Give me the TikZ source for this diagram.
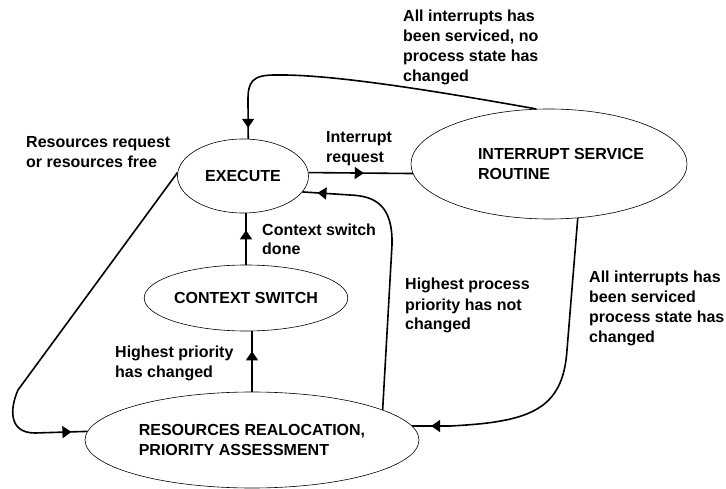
\documentclass[tikz,border=0pt]{standalone}
\usepackage{fontspec}
\setmainfont{Liberation Sans}
\usetikzlibrary{shapes.geometric,arrows.meta,decorations.markings}
\tikzset{
  state/.style={draw,ellipse,line width=0.6pt,inner sep=0pt,align=left,font=\bfseries\fontsize{16}{20}\selectfont},
  conn/.style={line width=1.6pt},
  tipat/.style={postaction={decorate},decoration={markings,mark=at position #1 with {\arrow{Triangle[length=9pt,width=12pt]}}}},
  lbl/.style={anchor=base west,align=left,inner sep=0pt,font=\bfseries\fontsize{16}{20}\selectfont}
}
\begin{document}
\begin{tikzpicture}[x=1pt,y=-1pt]
  \useasboundingbox (0,0) rectangle (726,489);
  \node[state,minimum width=131pt,minimum height=74pt] (exec) at (243,176) {EXECUTE};
  \node[state,minimum width=276pt,minimum height=110pt] (isr) at (549,164) {\hspace*{24pt}INTERRUPT SERVICE\\\hspace*{24pt}ROUTINE};
  \node[state,minimum width=196pt,minimum height=66pt] (ctx) at (246,298) {CONTEXT SWITCH};
  \node[state,minimum width=334pt,minimum height=96pt] (res) at (252,440) {RESOURCES REALOCATION,\\PRIORITY ASSESSMENT};
  \node[lbl] (reqlbl) at (26,168) {Resources request\\or resources free};
  \node[lbl] (intlbl) at (326,163) {Interrupt\\request};
  \node[lbl] (donelbl) at (403,82) {All interrupts has\\been serviced, no\\process state has\\changed};
  \node[lbl] (swlbl) at (262,255) {Context switch\\done};
  \node[lbl] (chglbl) at (115,377) {Highest priority\\has changed};
  \node[lbl] (notlbl) at (405,330) {Highest process\\priority has not\\changed};
  \node[lbl] (statelbl) at (589,342) {All interrupts has\\been serviced\\process state has\\changed};
  \draw[conn,tipat=-11pt] (isr.103) .. controls (430,90) and (330,74) .. (275,75) .. controls (252,75) and (248,82) .. (248,100) -- (exec.82);
  \draw[conn,tipat=0.53] (exec.3) -- (isr.184);
  \draw[conn,tipat=-15pt] (res.13) -- (392,245) .. controls (393,205) and (375,196) .. (350,195) -- (exec.-15);
  \draw[conn,tipat=-17pt] (ctx.north) -- (ctx.north |- exec.south);
  \draw[conn,tipat=-20pt] (res.north) -- (res.north |- ctx.south);
  \draw[conn,tipat=-16pt] (exec.177) -- (18,390) .. controls (10,408) and (8,433) .. (35,433) -- (res.177);
  \draw[conn,tipat=-19pt] (isr.-62) -- (567,350) .. controls (563,410) and (530,422) .. (450,426) -- (res.5);
\end{tikzpicture}
\end{document}
